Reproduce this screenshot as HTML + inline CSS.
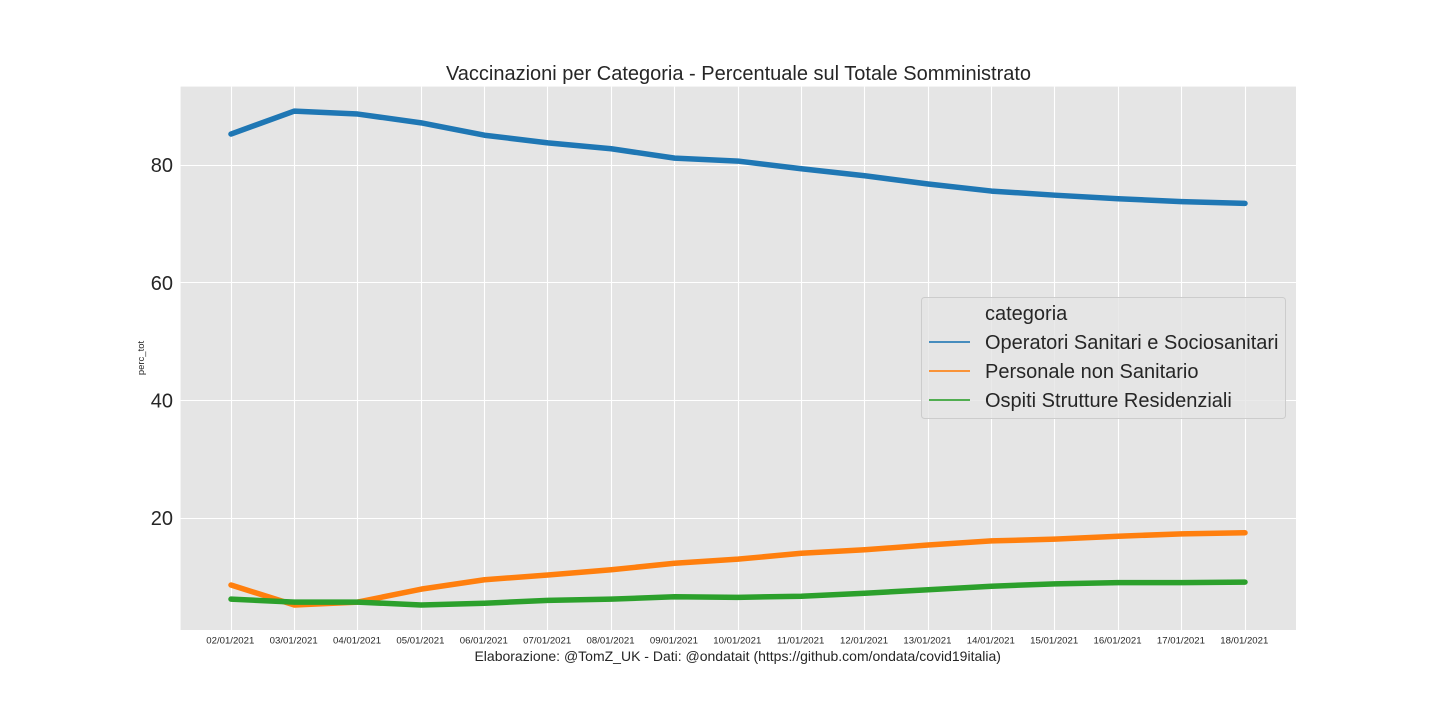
<!DOCTYPE html>
<html lang="it">
<head>
<meta charset="utf-8">
<title>Vaccinazioni per Categoria</title>
<style>
html,body{margin:0;padding:0;background:#fff;width:1440px;height:720px;overflow:hidden}
svg{display:block}
text{font-family:"Liberation Sans",Arial,sans-serif;fill:#262626}
</style>
</head>
<body>
<svg id="chart" width="1440" height="720" viewBox="0 0 1440 720" xmlns="http://www.w3.org/2000/svg">
<rect x="0" y="0" width="1440" height="720" fill="#ffffff"/>
<rect x="180.6" y="86.6" width="1115.4" height="543.4" fill="#e5e5e5"/>
<g id="grid"></g>
<g id="series"></g>
<g id="ticks"></g>
<text x="738.5" y="80" font-size="20" text-anchor="middle">Vaccinazioni per Categoria - Percentuale sul Totale Somministrato</text>
<text x="144" y="358" font-size="9.5" text-anchor="middle" transform="rotate(-90 144 358)">perc_tot</text>
<text x="737.7" y="661" font-size="14" text-anchor="middle">Elaborazione: @TomZ_UK - Dati: @ondatait (https://github.com/ondata/covid19italia)</text>
<g id="legend">
<rect x="921.5" y="297.5" width="364" height="121" rx="3" fill="#e5e5e5" fill-opacity="0.8" stroke="#cccccc"/>
<text x="985" y="320" font-size="20">categoria</text>
<line x1="929" y1="342" x2="970" y2="342" stroke="#1f77b4" stroke-width="2" opacity="0.8"/>
<text x="985" y="349" font-size="20">Operatori Sanitari e Sociosanitari</text>
<line x1="929" y1="371" x2="970" y2="371" stroke="#ff7f0e" stroke-width="2" opacity="0.8"/>
<text x="985" y="378" font-size="20">Personale non Sanitario</text>
<line x1="929" y1="400" x2="970" y2="400" stroke="#2ca02c" stroke-width="2" opacity="0.8"/>
<text x="985" y="407" font-size="20">Ospiti Strutture Residenziali</text>
</g>
</svg>
<script>
var dates = ["02/01/2021","03/01/2021","04/01/2021","05/01/2021","06/01/2021","07/01/2021","08/01/2021","09/01/2021","10/01/2021","11/01/2021","12/01/2021","13/01/2021","14/01/2021","15/01/2021","16/01/2021","17/01/2021","18/01/2021"];
var operatori = [85.3,89.2,88.7,87.2,85.1,83.8,82.8,81.2,80.7,79.4,78.2,76.8,75.6,74.9,74.3,73.8,73.5];
var personale = [8.6,5.2,5.7,7.9,9.5,10.3,11.2,12.3,13.0,14.0,14.6,15.4,16.1,16.4,16.9,17.3,17.5];
var ospiti = [6.2,5.7,5.7,5.2,5.5,6.0,6.2,6.6,6.5,6.7,7.2,7.8,8.4,8.8,9.0,9.0,9.1];
var yTicks = [20,40,60,80];

var NS = 'http://www.w3.org/2000/svg';
function xScale(i){ return 231 + i * 63.375; }
function yScale(v){ return 518 - (v - 20) * 5.88; }
function crisp(p){ return Math.floor(p) + 0.5; }
function make(tag, parent, attrs){
  var el = document.createElementNS(NS, tag);
  for (var k in attrs) el.setAttribute(k, attrs[k]);
  parent.appendChild(el);
  return el;
}
var grid = document.getElementById('grid');
var ticks = document.getElementById('ticks');
var seriesGroup = document.getElementById('series');

yTicks.forEach(function(t){
  var y = yScale(t);
  var line = make('line', grid, {x1:180.6, x2:1296, y1:crisp(y), y2:crisp(y), stroke:'#ffffff', 'stroke-width':1.1});
  
  
  var label = make('text', ticks, {x:173, y:y + 7, 'font-size':20, 'text-anchor':'end'});
  
  
  label.textContent = t;
});
dates.forEach(function(d, i){
  var x = xScale(i);
  var line = make('line', grid, {x1:crisp(x), x2:crisp(x), y1:86.6, y2:630, stroke:'#ffffff', 'stroke-width':1.1});
  
  
  var label = make('text', ticks, {x:x - 0.7, y:643.7, 'font-size':9.6, 'text-anchor':'middle'});
  
  
  label.textContent = d;
});
function drawSeries(values, color, name){
  var pts = values.map(function(v, i){ return xScale(i).toFixed(2) + ',' + yScale(v).toFixed(2); }).join(' ');
  var line = make('polyline', seriesGroup, {points:pts, fill:'none', stroke:color, 'stroke-width':5.5, 'stroke-linecap':'round', 'stroke-linejoin':'round'});
  
  
}
drawSeries(operatori, '#1f77b4', 'series-operatori-sanitari');
drawSeries(personale, '#ff7f0e', 'series-personale-non-sanitario');
drawSeries(ospiti, '#2ca02c', 'series-ospiti-strutture');
</script>
</body>
</html>
